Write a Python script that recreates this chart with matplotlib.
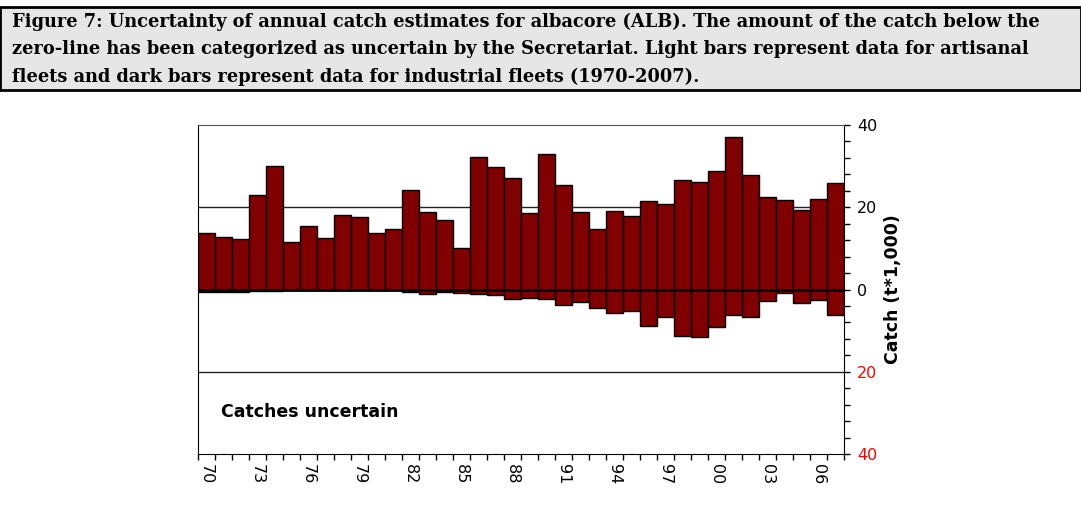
import numpy as np
import matplotlib.pyplot as plt
from matplotlib.patches import Rectangle
from matplotlib.ticker import FixedLocator, FuncFormatter

# annual albacore catch, thousand tonnes (1970-2007)
years = list(range(1970, 2008))
catch_certain = [13.8, 12.8, 12.3, 23.1, 30.1, 11.6, 15.4, 12.6, 18.1, 17.7,
                 13.7, 14.7, 24.3, 18.8, 16.9, 10.2, 32.2, 29.9, 27.2, 18.7,
                 33.0, 25.4, 18.9, 14.8, 19.1, 17.8, 21.4, 20.8, 26.7, 26.2,
                 28.7, 37.2, 27.8, 22.5, 21.8, 19.3, 22.1, 26.0]
catch_uncertain = [0.6, 0.55, 0.5, 0.4, 0.3, 0.15, 0.15, 0.15, 0.15, 0.15,
                   0.15, 0.15, 0.5, 1.05, 0.7, 0.75, 1.1, 1.4, 2.4, 2.0,
                   2.3, 3.7, 3.1, 4.4, 5.7, 5.3, 8.9, 6.7, 11.3, 11.5,
                   9.2, 6.2, 6.8, 2.8, 0.9, 3.3, 2.6, 6.1]
ytick_vals = [-40, -20, 0, 20, 40]

title_lines = [
    "Figure 7: Uncertainty of annual catch estimates for albacore (ALB). The amount of the catch below the",
    "zero-line has been categorized as uncertain by the Secretariat. Light bars represent data for artisanal",
    "fleets and dark bars represent data for industrial fleets (1970-2007).",
]

W, H = 1081, 509
fig = plt.figure(figsize=(W / 100, H / 100), dpi=100)

# caption box
fig.patches.append(Rectangle((0, 1 - 90 / H), 1, 83 / H, transform=fig.transFigure,
                             facecolor='#e6e6e6', edgecolor='black', lw=2))
for i, line in enumerate(title_lines):
    fig.text(12 / W, 1 - (27 + 27.5 * i) / H, line, family='DejaVu Serif',
             weight='bold', fontsize=12.8, va='baseline', ha='left')

ax = fig.add_axes([198 / W, 1 - 454 / H, 646 / W, 329 / H])
x = np.arange(len(years))
ax.bar(x, catch_certain, width=1.0, color='#800000', edgecolor='black', lw=1, zorder=3)
ax.bar(x, [-v for v in catch_uncertain], width=1.0, color='#800000',
       edgecolor='black', lw=1, zorder=3)
ax.axhline(0, color='black', lw=2, zorder=4)
for yv in (20, -20):
    ax.axhline(yv, color='#222222', lw=1, zorder=1)

ax.set_xlim(-0.5, len(years) - 0.5)
ax.set_ylim(-40, 40)

# x: ticks on the bar edges, labels every third year
ax.xaxis.set_major_locator(FixedLocator(np.arange(-0.5, len(years), 1.0)))
ax.xaxis.set_major_formatter(FuncFormatter(lambda v, p: ''))
ax.xaxis.set_minor_locator(FixedLocator(x[::3]))
ax.set_xticklabels([f"{y % 100:02d}" for y in years[::3]], minor=True,
                   rotation=-90, fontsize=11.5)
ax.tick_params(axis='x', which='major', direction='out', length=4.3, width=1)
ax.tick_params(axis='x', which='minor', length=0, pad=7)

# y on the right, negative side shown in red
ax.yaxis.tick_right()
ax.yaxis.set_label_position('right')
ax.set_yticks(ytick_vals)
ax.set_yticklabels([str(abs(v)) for v in ytick_vals], fontsize=11.5)
for lab, v in zip(ax.get_yticklabels(), ytick_vals):
    lab.set_color('red' if v < 0 else 'black')
ax.yaxis.set_minor_locator(FixedLocator(np.arange(-40, 41, 4)))
ax.tick_params(axis='y', which='both', direction='out', length=4.3, width=1, pad=5)
ax.set_ylabel('Catch (t*1,000)', fontsize=12.5, weight='bold', rotation=90, labelpad=5)

ax.spines['top'].set_color('#555555')
for s in ('left', 'right', 'bottom'):
    ax.spines[s].set_color('black')

ax.text(221 / W, 1 - 417 / H, 'Catches uncertain', transform=fig.transFigure,
        fontsize=12.5, weight='bold', va='baseline')

fig.savefig('out.png', dpi=100)
